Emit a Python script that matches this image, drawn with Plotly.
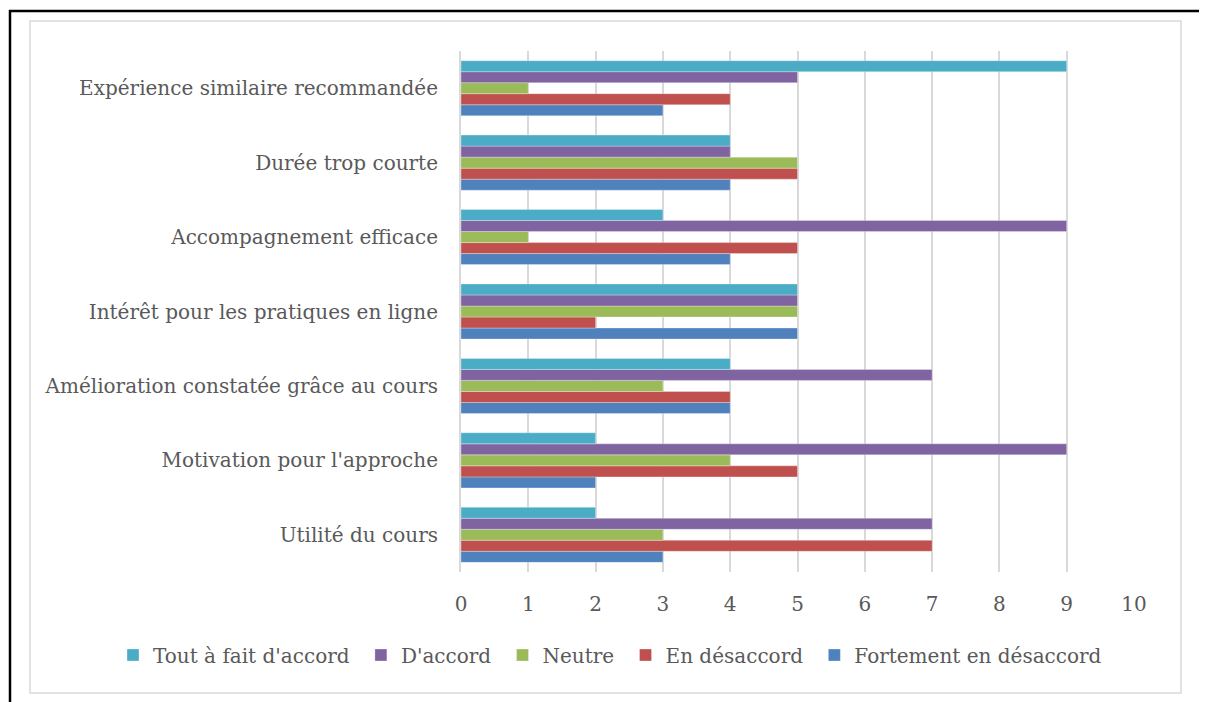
import plotly.graph_objs as go

# categories, bottom to top as drawn
categories = [
    "Utilité du cours",
    "Motivation pour l'approche",
    "Amélioration constatée grâce au cours",
    "Intérêt pour les pratiques en ligne",
    "Accompagnement efficace",
    "Durée trop courte",
    "Expérience similaire recommandée",
]

fortement_desaccord = [3, 2, 4, 5, 4, 4, 3]
en_desaccord = [7, 5, 4, 2, 5, 5, 4]
neutre = [3, 4, 3, 5, 1, 5, 1]
d_accord = [7, 9, 7, 5, 9, 4, 5]
tout_a_fait = [2, 2, 4, 5, 3, 4, 9]

x_ticks = list(range(0, 11))

series = [
    ("Fortement en désaccord", fortement_desaccord, "#4F81BD"),
    ("En désaccord", en_desaccord, "#C0504D"),
    ("Neutre", neutre, "#9BBB59"),
    ("D'accord", d_accord, "#8064A2"),
    ("Tout à fait d'accord", tout_a_fait, "#4BACC6"),
]

FONT = "DejaVu Serif"
GREY_TEXT = "#595959"

# the page body has an 8px margin, so the figure is drawn 8px smaller
OFF = 8
FIG_W, FIG_H = 1207 - OFF, 702 - OFF

fig = go.Figure()
for name, vals, color in series:
    fig.add_trace(go.Bar(
        y=categories, x=vals, name=name + "\u00a0", orientation="h",
        marker=dict(color=color, line=dict(color="rgba(255,255,255,0.5)", width=0.6)),
    ))

# screen pixel edges of the plot area
L, R, T, B = 461, 1134, 51, 572
W, H = R - L, B - T


def px(x):
    return (x - L) / W


def py(y):
    return (B - y) / H


shapes = [
    # outer light grey chart border
    dict(type="rect", xref="paper", yref="paper",
         x0=px(30), x1=px(1181), y0=py(693), y1=py(21),
         line=dict(color="#D9D9D9", width=1.5), layer="below"),
    # black page edges
    dict(type="line", xref="paper", yref="paper",
         x0=px(9), x1=px(1210), y0=py(11), y1=py(11),
         line=dict(color="black", width=2.5)),
    dict(type="line", xref="paper", yref="paper",
         x0=px(10), x1=px(10), y0=py(10), y1=py(710),
         line=dict(color="black", width=2.5)),
]

fig.update_layout(
    width=FIG_W, height=FIG_H,
    margin=dict(l=L - OFF, r=1207 - R, t=T - OFF, b=702 - B, autoexpand=False),
    paper_bgcolor="white", plot_bgcolor="white",
    barmode="group", bargap=0.26, bargroupgap=0,
    font=dict(family=FONT, size=20, color=GREY_TEXT),
    xaxis=dict(range=[0, 10], tickvals=x_ticks, showgrid=True,
               gridcolor="#D9D9D9", gridwidth=2, zeroline=False,
               showline=False, ticks="", ticklabelstandoff=18,
               tickfont=dict(size=20, color=GREY_TEXT)),
    yaxis=dict(showgrid=False, showline=True, linecolor="#D9D9D9", linewidth=2,
               ticks="", ticklabelstandoff=17, tickfont=dict(size=20, color=GREY_TEXT)),
    legend=dict(orientation="h", traceorder="reversed", x=px(113), xanchor="left",
                y=py(655), yanchor="middle", font=dict(size=20, color=GREY_TEXT),
                itemwidth=30, tracegroupgap=0),
    shapes=shapes,
)

fig.write_html("out.html")
